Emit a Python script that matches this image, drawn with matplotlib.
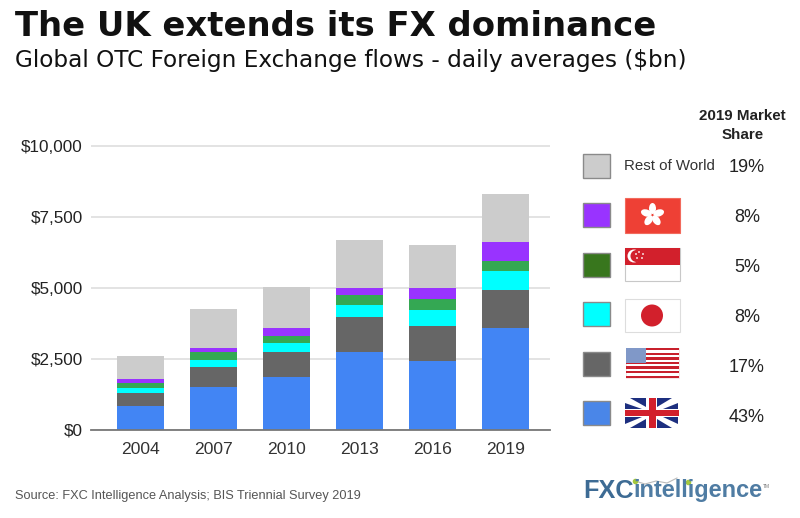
import numpy as np
import matplotlib
matplotlib.use("Agg")
import matplotlib.pyplot as plt
from matplotlib.patches import Rectangle, Circle, Ellipse, Polygon

years = ["2004", "2007", "2010", "2013", "2016", "2019"]
uk = [813, 1486, 1851, 2735, 2405, 3584]
us = [484, 719, 896, 1238, 1262, 1356]
japan = [153, 259, 295, 413, 554, 660]
singapore = [189, 260, 271, 354, 377, 354]
hong_kong = [153, 165, 259, 271, 413, 660]
rest = [802, 1379, 1474, 1686, 1521, 1698]

series = [uk, us, japan, singapore, hong_kong, rest]
colors = ["#4285f4", "#666666", "#00ffff", "#34a853", "#9933ff", "#cccccc"]
yticks = [0, 2500, 5000, 7500, 10000]
ylabels = ["$0", "$2,500", "$5,000", "$7,500", "$10,000"]

shares = ["19%", "8%", "5%", "8%", "17%", "43%"]
share_y = [168, 218, 268, 317, 368, 418]
swatches = ["#cccccc", "#9933ff", "#38761d", "#00ffff", "#666666", "#4a86e8"]
swatch_y = [154, 203, 253, 302, 352, 401]

W, H = 800, 518
plt.rcParams["font.family"] = ["Liberation Sans", "DejaVu Sans"]
fig = plt.figure(figsize=(W / 100, H / 100), dpi=100)

# main chart, a little headroom so the top gridline is not clipped
ax = fig.add_axes([91 / W, (H - 429.5) / H, 459 / W, 284 / H])
x = np.arange(len(years))
bottom = np.zeros(len(years))
for vals, c in zip(series, colors):
    ax.bar(x, vals, width=0.637, bottom=bottom, color=c, zorder=3)
    bottom += np.array(vals)
ax.set_xlim(-0.681, 5.607)
ax.set_ylim(0, 10000 * 284 / 283)
ax.set_xticks(x)
ax.set_xticklabels(years, fontsize=12.6, color="#333333")
ax.set_yticks(yticks)
ax.set_yticklabels(ylabels, fontsize=12.3, color="#222222")
ax.tick_params(length=0, pad=6)
ax.tick_params(axis="x", pad=9)
ax.grid(axis="y", color="#e0e0e0", lw=1.3, zorder=0)
ax.set_axisbelow(True)
for s in ["top", "right", "left"]:
    ax.spines[s].set_visible(False)
ax.spines["bottom"].set_color("#777777")
ax.spines["bottom"].set_linewidth(1.3)
ax.spines["bottom"].set_zorder(5)

# overlay in pixel coordinates for the header, legend and flags
ov = fig.add_axes([0, 0, 1, 1], zorder=5)
ov.set_xlim(0, W)
ov.set_ylim(H, 0)
ov.axis("off")

ov.text(15, 26, "The UK extends its FX dominance", family="DejaVu Sans", weight="bold",
        fontsize=24.4, color="#111111", va="center")
ov.text(15, 60.5, "Global OTC Foreign Exchange flows - daily averages ($bn)", family="DejaVu Sans",
        fontsize=16.7, color="#111111", va="center")
ov.text(15, 496, "Source: FXC Intelligence Analysis; BIS Triennial Survey 2019", fontsize=9.2,
        color="#555555", va="center")

ov.text(742.5, 116, "2019 Market", weight="bold", fontsize=10.9, color="#222222", ha="center", va="center")
ov.text(742.5, 135, "Share", weight="bold", fontsize=10.9, color="#222222", ha="center", va="center")

for y, c in zip(swatch_y, swatches):
    ov.add_patch(Rectangle((583, y), 27, 24, fc=c, ec="#8a8a8a", lw=1))
for y, s in zip(share_y, shares):
    ov.text(747, y, s, fontsize=13, color="#222222", ha="center", va="center")
ov.text(624, 166.5, "Rest of World", fontsize=10.8, color="#333333", va="center")

# Hong Kong flag
ov.add_patch(Rectangle((625, 198), 55, 35, fc="#ee4035", ec="#f26a5c", lw=0.8))
for a in np.deg2rad([90, 162, 234, 306, 18]):
    ov.add_patch(Ellipse((652.5 + 6.5 * np.cos(a), 215 - 6.5 * np.sin(a)), 7, 11,
                         angle=90 - np.rad2deg(a), fc="white", ec="none"))

# Singapore flag
ov.add_patch(Rectangle((625, 248), 54.5, 33, fc="white", ec="#c8c8c8", lw=0.8))
ov.add_patch(Rectangle((625, 248), 54.5, 16.5, fc="#d2202c", ec="none"))
ov.add_patch(Circle((634, 256), 6.5, fc="white", ec="none"))
ov.add_patch(Circle((636.5, 256), 6, fc="#d2202c", ec="none"))
for px, py in [(639, 252), (643, 254), (642, 258), (637, 258), (636, 254)]:
    ov.add_patch(Circle((px, py), 0.9, fc="white", ec="none"))

# Japan flag
ov.add_patch(Rectangle((625, 299), 54.5, 32.5, fc="white", ec="#dddddd", lw=0.8))
ov.add_patch(Circle((652, 315.5), 11, fc="#d2202c", ec="none"))

# US flag
ov.add_patch(Rectangle((625.5, 348), 53, 30, fc="white", ec="#f2dcdc", lw=0.5))
for i in range(7):
    ov.add_patch(Rectangle((625.5, 348 + i * 4.6), 53, 2.3, fc="#c8202c", ec="none"))
ov.add_patch(Rectangle((625.5, 348), 20, 14.5, fc="#8098c8", ec="none"))

# UK flag, blue triangles on white
uk_blue = [
    [(625, 403), (642, 409), (625, 409)], [(630, 398), (646, 398), (646, 407)],
    [(657, 398), (672, 398), (657, 407)], [(678, 403), (678, 409), (663, 409)],
    [(625, 417), (642, 417), (625, 424)], [(646, 428), (630, 428), (646, 419)],
    [(657, 419), (657, 428), (672, 428)], [(663, 417), (678, 417), (678, 424)],
]
for pts in uk_blue:
    ov.add_patch(Polygon(pts, fc="#1d2f7f", ec="none"))
ov.add_patch(Rectangle((649, 398), 7, 30, fc="#d2202c", ec="none"))
ov.add_patch(Rectangle((625, 410), 53.5, 6, fc="#d2202c", ec="none"))

# logo
ov.text(583, 491, "FXC", weight="bold", fontsize=18.2, color="#3d6b94", va="center")
ov.text(633, 491, "intelligence", weight="bold", fontsize=16.9, color="#4f7ca3", va="center")
ov.text(763, 486, "TM", fontsize=3.5, color="#777777", va="center")
ov.plot([635, 645, 656, 667, 677], [481, 484, 481, 483, 478], color="#bbbbbb", lw=0.8)
ov.plot([635, 688], [481, 482], ls="none", marker="o", ms=3, color="#a5c93d")

fig.savefig("out.png", dpi=100)
